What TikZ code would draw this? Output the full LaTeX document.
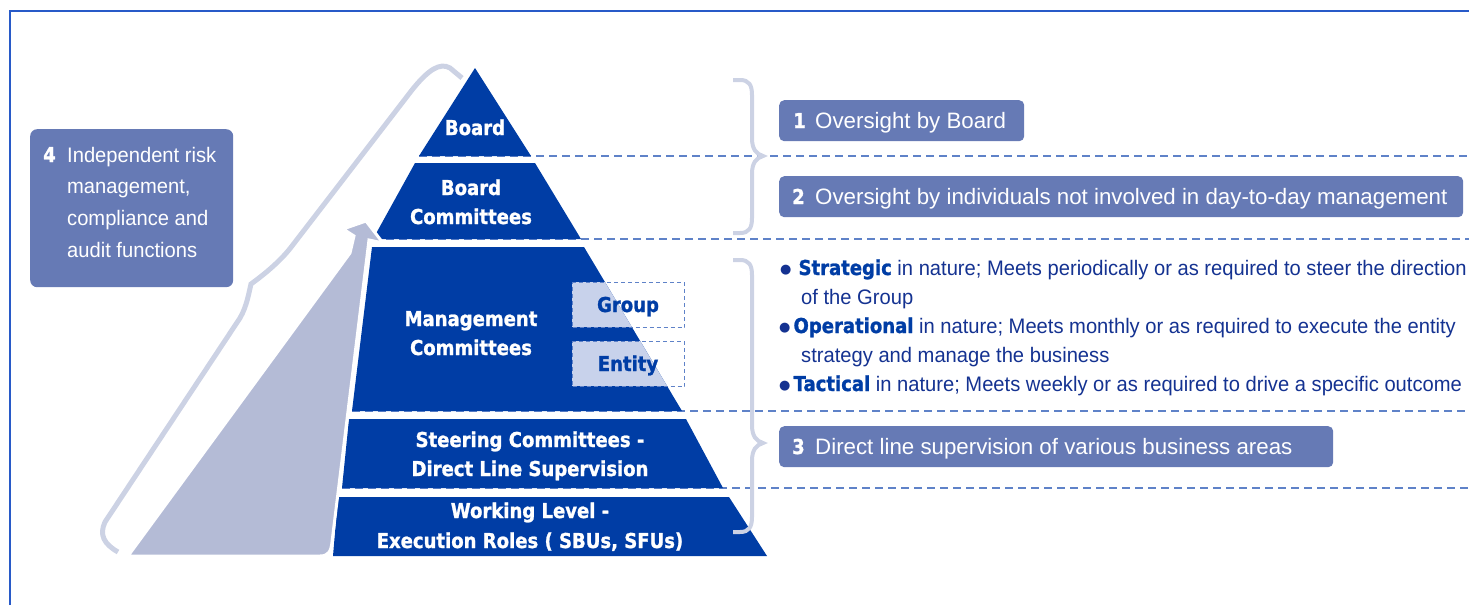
\documentclass[tikz,border=0pt]{standalone}
\usepackage{fontspec}
\setmainfont{Liberation Sans}
\newfontfamily\pyrfam[FakeStretch=0.88,FakeBold=1.2]{DejaVu Sans Bold}
\newfontfamily\dotfam{DejaVu Sans}
\newfontfamily\condfam[FakeStretch=0.96]{Liberation Sans}
\newcommand\pfont{\pyrfam\fontsize{20.5}{24}\selectfont}
\newcommand\boxfont{\fontsize{22.3}{26}\selectfont}
\newcommand\cfont{\condfam\fontsize{21}{25}\selectfont}
\newcommand\bdot{\raisebox{2pt}{\dotfam\fontsize{13}{13}\selectfont ●}}
\definecolor{pyr}{RGB}{0,61,165}
\definecolor{boxblue}{RGB}{102,122,181}
\definecolor{arrowgrey}{RGB}{180,187,214}
\definecolor{bracec}{RGB}{204,210,228}
\definecolor{dashc}{RGB}{95,130,200}
\definecolor{framec}{RGB}{40,90,200}
\definecolor{txtblue}{RGB}{20,50,145}
\definecolor{gfill}{RGB}{200,210,235}
\begin{document}
\begin{tikzpicture}[x=1pt,y=-1pt,
  tier/.style={fill=pyr},
  plab/.style={text=white, font=\pfont, anchor=base, inner sep=0pt},
  gbox/.style={draw=dashc, dash pattern=on 4pt off 3pt, line width=1pt, minimum width=112pt, minimum height=45pt, anchor=north west, inner sep=0pt},
  lbox/.style={fill=boxblue, rounded corners=5pt, anchor=north west, inner sep=0pt},
  numtext/.style={text=white, font=\pfont, anchor=base west, inner sep=0pt},
  ltext/.style={text=white, font=\boxfont, anchor=base west, inner sep=0pt},
  ctext/.style={text=white, font=\cfont, anchor=base west, inner sep=0pt},
  btext/.style={text=txtblue, font=\cfont, anchor=base west, inner sep=0pt},
  dline/.style={draw=dashc, line width=1.4pt, dash pattern=on 8pt off 5pt},
  bracepath/.style={draw=bracec, line width=4pt},
]
\useasboundingbox (0,0) rectangle (1469,605);
% frame
\draw[framec, line width=1.3pt] (10,605) -- (10,11) -- (1469,11);
% dashed separators
\draw[dline] (419,156) -- (1469,156);
\draw[dline] (373,239) -- (1469,239);
\draw[dline] (352,411) -- (1469,411);
\draw[dline] (342,488) -- (1469,488);
% pyramid tiers
\fill[tier] (475,68) -- (531,156) -- (419,156) -- cycle;
\fill[tier] (415,163) -- (535,163) -- (581,239) -- (373,239) -- cycle;
\fill[tier] (372,247) -- (584,247) -- (682,411) -- (352,411) -- cycle;
\fill[tier] (349,419) -- (686,419) -- (723,488) -- (342,488) -- cycle;
\fill[tier] (338,497) -- (729,497) -- (767,556) -- (333,556) -- cycle;
% group / entity shading inside pyramid
\begin{scope}
\clip (372,247) -- (584,247) -- (682,411) -- (352,411) -- cycle;
\fill[gfill] (572,282) rectangle (684,327);
\fill[gfill] (572,341) rectangle (684,386);
\end{scope}
\node[gbox] (grp) at (572,282) {};
\node[gbox] (ent) at (572,341) {};
% grey arrow
\fill[arrowgrey, draw=white, line width=3pt] (128,556) -- (350,253) -- (354,236) -- (343,229) -- (366,221) -- (383,243) -- (369,240) -- (332,542) .. controls (331,552) and (328,556) .. (320,556) -- cycle;
% left curved bracket
\draw[bracepath, line width=5pt] (118,552) .. controls (104,544) and (99,535) .. (105,522) -- (240,318) .. controls (247,306) and (249,292) .. (251,284) .. controls (262,276) and (280,262) .. (292,246) -- (412,90) .. controls (428,70) and (440,62) .. (450,68) -- (462,78);
% right braces
\draw[bracepath] (733,80) -- (740,80) .. controls (749,80) and (752,85) .. (752,95) -- (752,138) .. controls (752,149) and (756,154) .. (763,156) .. controls (756,158) and (752,163) .. (752,174) -- (752,218) .. controls (752,228) and (749,233) .. (740,233) -- (733,233);
\draw[bracepath] (733,260) -- (740,260) .. controls (749,260) and (752,265) .. (752,275) -- (752,425) .. controls (752,436) and (756,441) .. (763,443) .. controls (756,445) and (752,450) .. (752,461) -- (752,517) .. controls (752,527) and (749,532) .. (740,532) -- (733,532);
% tier labels
\node[plab] (lboard) at (475,135) {Board};
\node[plab] (lbc1) at (471,195) {Board};
\node[plab] (lbc2) at (471,224) {Committees};
\node[plab] (lmc1) at (471,326) {Management};
\node[plab] (lmc2) at (471,355) {Committees};
\node[plab, text=pyr] (grpt) at (628,312) {Group};
\node[plab, text=pyr] (entt) at (628,371) {Entity};
\node[plab] (lsc1) at (530,447) {Steering Committees -};
\node[plab] (lsc2) at (530,476) {Direct Line Supervision};
\node[plab] (lwl1) at (530,518) {Working Level -};
\node[plab] (lwl2) at (530,548) {Execution Roles ( SBUs, SFUs)};
% label boxes
\node[lbox, minimum width=245pt, minimum height=41pt] (b1) at (779,100) {};
\node[numtext] (n1) at (793,128) {1};
\node[ltext] (t1) at (815,128) {Oversight by Board};
\node[lbox, minimum width=684pt, minimum height=41pt] (b2) at (779,176) {};
\node[numtext] (n2) at (792,204) {2};
\node[ltext] (t2) at (815,204) {Oversight by individuals not involved in day-to-day management};
\node[lbox, minimum width=554pt, minimum height=41pt] (b3) at (779,426) {};
\node[numtext] (n3) at (792,454) {3};
\node[ltext] (t3) at (815,454) {Direct line supervision of various business areas};
\node[lbox, rounded corners=7pt, minimum width=203pt, minimum height=158pt] (b4) at (30,129) {};
\node[numtext] (n4) at (43,162) {4};
\node[ctext] (t4a) at (67,162) {Independent risk};
\node[ctext] (t4b) at (67,193) {management,};
\node[ctext] (t4c) at (67,225) {compliance and};
\node[ctext] (t4d) at (67,257) {audit functions};
% bullets
\node[btext] (s1) at (780,275) {\bdot\hspace{7pt}{\pfont\color{pyr}Strategic} in nature; Meets periodically or as required to steer the direction};
\node[btext] (s2) at (801,304) {of the Group};
\node[btext] (o1) at (779,333) {\bdot\hspace{3pt}{\pfont\color{pyr}Operational} in nature; Meets monthly or as required to execute the entity};
\node[btext] (o2) at (801,362) {strategy and manage the business};
\node[btext] (tc1) at (779,391) {\bdot\hspace{3pt}{\pfont\color{pyr}Tactical} in nature; Meets weekly or as required to drive a specific outcome};
\end{tikzpicture}
\end{document}
